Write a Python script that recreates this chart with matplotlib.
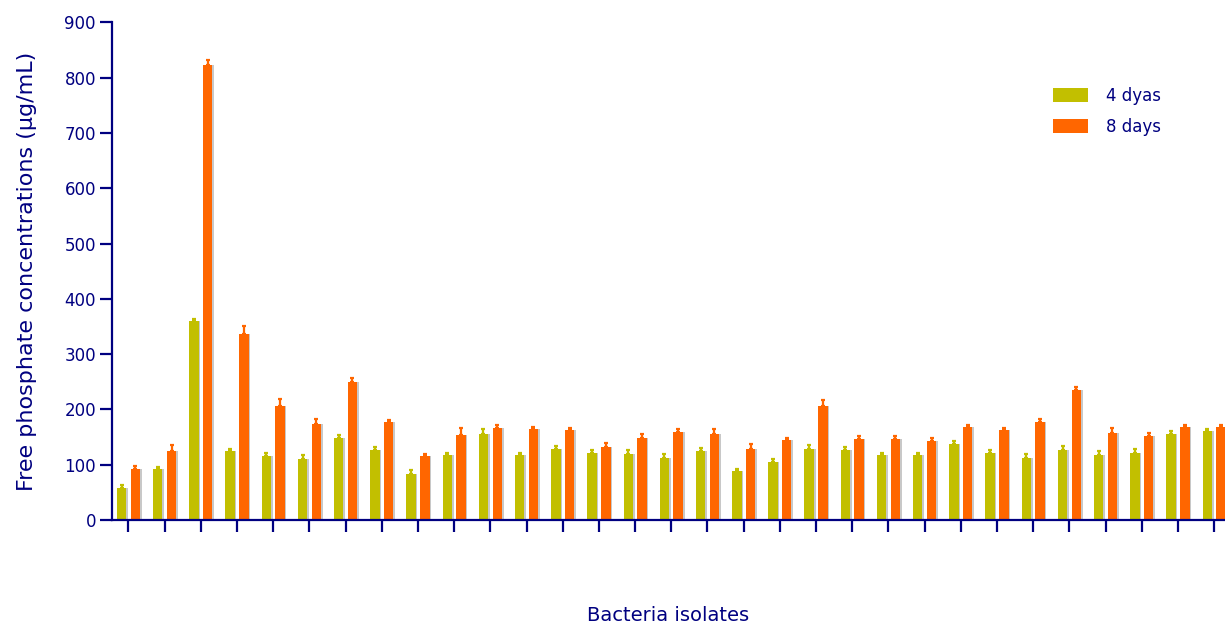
import numpy as np
import matplotlib.pyplot as plt

# free phosphate (ug/mL) per isolate
day4 = [58, 92, 360, 124, 115, 111, 149, 127, 84, 117, 156, 117, 129, 121, 119, 112,
        124, 88, 104, 129, 127, 117, 117, 137, 122, 112, 126, 117, 121, 156, 161]
day4_err = [5, 3, 4, 5, 7, 6, 5, 5, 6, 5, 8, 5, 5, 5, 7, 7,
            7, 4, 6, 6, 5, 5, 5, 5, 5, 7, 7, 7, 7, 5, 3]
day8 = [92, 124, 822, 337, 207, 173, 249, 177, 115, 154, 166, 164, 162, 132, 149, 159,
        156, 129, 144, 206, 146, 147, 142, 168, 162, 177, 235, 157, 151, 168, 168]
day8_err = [6, 11, 10, 13, 11, 10, 7, 4, 5, 12, 5, 5, 4, 7, 7, 5,
            8, 8, 5, 11, 5, 5, 7, 4, 5, 5, 5, 10, 6, 4, 4]
labels = ['4 dyas', '8 days']

navy = '#000080'
green = '#c2bf00'
orange = '#ff6600'

x = np.arange(len(day4))
w = 0.26
off = 0.19

fig = plt.figure(figsize=(12.25, 6.3), dpi=100)
ax = fig.add_axes([0.0914, 0.1746, 0.9086, 0.79])

# light grey shadow on the right of each bar
ax.bar(x - off + 0.045, day4, w, color='#c8c8c8', zorder=1)
ax.bar(x + off + 0.045, day8, w, color='#c8c8c8', zorder=1)
ax.bar(x - off, day4, w, color=green, label=labels[0], zorder=2)
ax.bar(x + off, day8, w, color=orange, label=labels[1], zorder=2)

ax.errorbar(x - off, day4, yerr=[np.zeros(len(day4)), day4_err], fmt='none',
            ecolor=green, elinewidth=1.6, capsize=1.7, capthick=1.6, zorder=3)
ax.errorbar(x + off, day8, yerr=[np.zeros(len(day8)), day8_err], fmt='none',
            ecolor=orange, elinewidth=1.6, capsize=1.7, capthick=1.6, zorder=3)

ax.set_xlim(-0.456, 30.3)
ax.set_ylim(0, 900)
ax.set_yticks(range(0, 901, 100))
ax.set_xticks(x)
ax.set_xticklabels([])

for s in ['top', 'right']:
    ax.spines[s].set_visible(False)
for s in ['left', 'bottom']:
    ax.spines[s].set_color(navy)
    ax.spines[s].set_linewidth(1.6)

ax.tick_params(axis='y', colors=navy, length=8.5, width=1.6, pad=3, labelsize=12)
ax.tick_params(axis='x', colors=navy, length=8.5, width=1.6, direction='out')

ax.set_ylabel('Free phosphate concentrations (µg/mL)', color=navy, fontsize=16, labelpad=20)
ax.set_xlabel('Bacteria isolates', color=navy, fontsize=14, labelpad=50)

leg = ax.legend(loc='upper left', bbox_to_anchor=(0.832, 0.90), frameon=False,
                fontsize=12, handlelength=2.1, handleheight=0.9, handletextpad=1.1,
                labelspacing=0.75)
for t in leg.get_texts():
    t.set_color(navy)

fig.savefig('out.png', dpi=100)
